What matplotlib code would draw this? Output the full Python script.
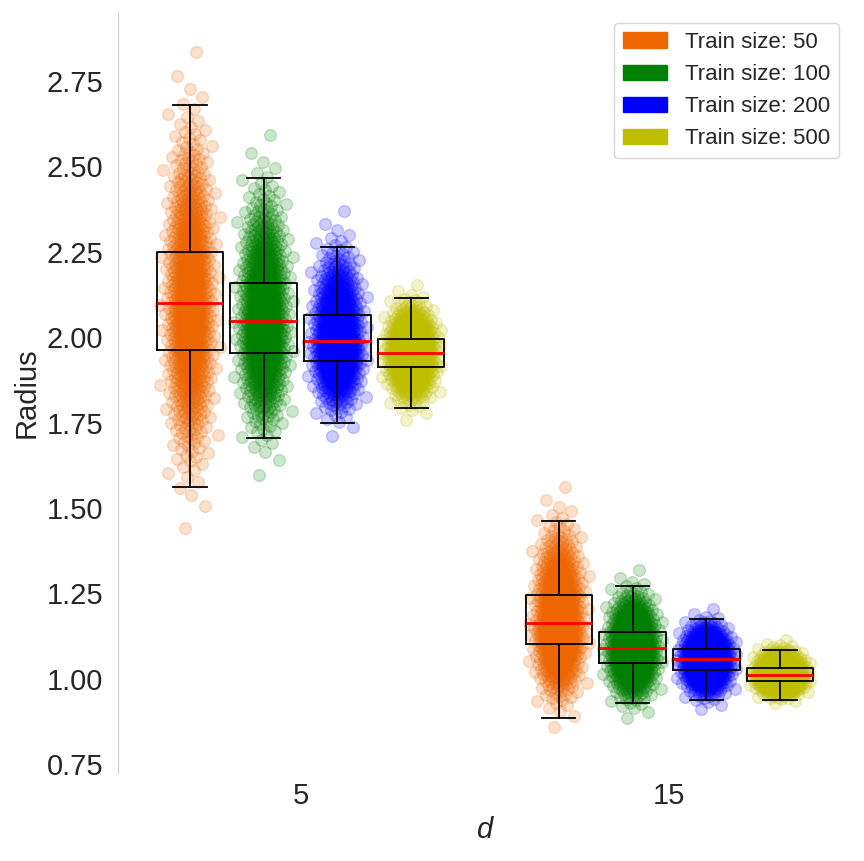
import numpy as np
import matplotlib
matplotlib.use("Agg")
from matplotlib import pyplot as plt
from matplotlib.patches import Patch
from statistics import NormalDist

# values
dims = ["5", "15"]
train_sizes = [50, 100, 200, 500]
colors = ["#EE6600", "green", "blue", "#BFBF00"]

# box statistics per d (rows) and train size (columns)
medians = [[2.099, 2.047, 1.988, 1.954], [1.163, 1.089, 1.057, 1.011]]
q1 = [[1.964, 1.955, 1.931, 1.914], [1.101, 1.047, 1.027, 0.994]]
q3 = [[2.250, 2.159, 2.066, 1.995], [1.245, 1.136, 1.087, 1.032]]
whisker_low = [[1.562, 1.706, 1.749, 1.794], [0.886, 0.930, 0.939, 0.939]]
whisker_high = [[2.680, 2.466, 2.264, 2.116], [1.462, 1.273, 1.176, 1.084]]
n_runs = 1000

plt.rcParams["font.family"] = ["Liberation Sans", "DejaVu Sans"]
plt.rcParams["text.color"] = "0.15"
plt.rcParams["axes.labelcolor"] = "0.15"
plt.rcParams["xtick.color"] = "0.15"
plt.rcParams["ytick.color"] = "0.15"

fig = plt.figure(figsize=(8.64, 8.61), dpi=100)
ax = fig.add_axes([0.137, 0.102, 0.847, 0.884])

nd = NormalDist()
probs = (np.arange(n_runs) + 0.5) / n_runs
z = np.array([nd.inv_cdf(p) for p in probs])
golden = (np.arange(n_runs) * 0.6180339887 + 0.31) % 1.0
jitter = np.array([nd.inv_cdf(min(max(g, 0.002), 0.998)) for g in golden]) * 0.14

offsets = [-1.5, -0.5, 0.5, 1.5]
centers = [0, 5]
stats = []
positions = []
for gi, c in enumerate(centers):
    for si in range(len(train_sizes)):
        pos = c + offsets[si]
        med = medians[gi][si]
        lo_s = (med - q1[gi][si]) / 0.6745
        hi_s = (q3[gi][si] - med) / 0.6745
        vals = np.where(z < 0, med + z * lo_s, med + z * hi_s)
        ax.scatter(pos + jitter, vals, s=72, color=colors[si], alpha=0.2,
                   linewidths=1, zorder=1)
        stats.append(dict(med=med, q1=q1[gi][si], q3=q3[gi][si],
                          whislo=whisker_low[gi][si], whishi=whisker_high[gi][si]))
        positions.append(pos)

ax.bxp(stats, positions=positions, widths=0.9, showfliers=False,
       boxprops=dict(color="black", linewidth=1.3),
       whiskerprops=dict(color="black", linewidth=1.3),
       capprops=dict(color="black", linewidth=1.3),
       medianprops=dict(color="red", linewidth=2),
       manage_ticks=False, zorder=3)

ax.set_xticks(centers)
ax.set_xticklabels(dims)
ax.set_xlim(-2.47, 7.45)
ax.set_ylim(0.724, 2.952)
ax.set_yticks([0.75, 1.0, 1.25, 1.5, 1.75, 2.0, 2.25, 2.5, 2.75])
ax.tick_params(axis="both", which="major", labelsize=21, length=0, pad=6)
ax.tick_params(axis="y", pad=11)
ax.set_ylabel("Radius", fontsize=21, labelpad=4)
ax.set_xlabel("d", fontsize=21, fontstyle="italic", labelpad=5)

for side in ["top", "right", "bottom"]:
    ax.spines[side].set_visible(False)
ax.spines["left"].set_color("0.8")

handles = [Patch(facecolor=col, edgecolor=col, label="Train size: %d" % t)
           for col, t in zip(colors, train_sizes)]
ax.legend(handles=handles, loc="upper right", fontsize=16, frameon=True,
          edgecolor="0.8", fancybox=True, labelspacing=0.5)

plt.savefig("out.png")
